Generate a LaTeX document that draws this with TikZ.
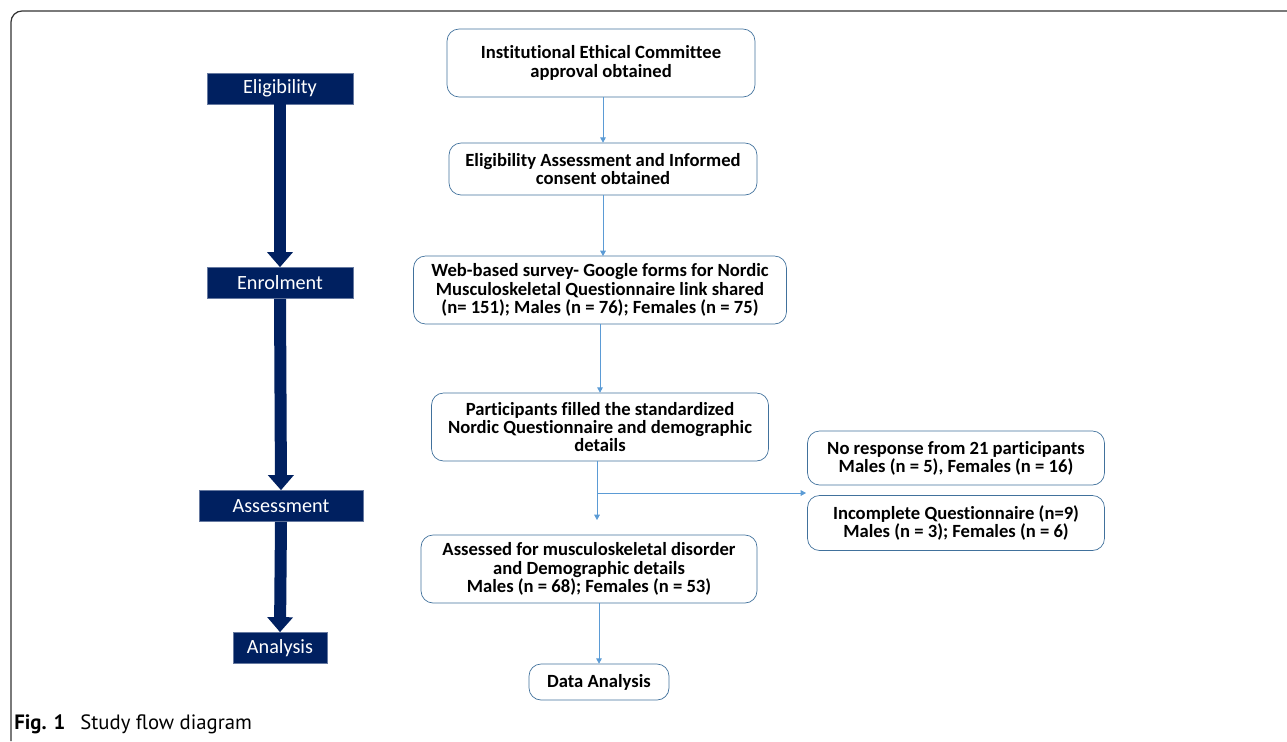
\documentclass[tikz,border=0pt]{standalone}
\usepackage{fontspec}
\setmainfont[Ligatures=NoCommon]{Carlito}
\newfontfamily\capfont{PT Sans}
\usetikzlibrary{arrows.meta}
\definecolor{navy}{HTML}{002060}
\definecolor{boxline}{HTML}{41719C}
\definecolor{flowline}{HTML}{5B9BD5}
\definecolor{frameline}{HTML}{333333}
\begin{document}
\begin{tikzpicture}[x=0.02cm,y=-0.02cm,
    stagebox/.style={fill=navy,draw=navy!60!white,text=white,inner sep=0pt,
      minimum height=0.62cm,font=\fontsize{11.5}{13}\selectfont},
    flowbox/.style={draw=boxline,rounded corners=0.24cm,align=center,inner sep=0pt,
      font=\fontsize{10.6}{10.4}\selectfont\bfseries},
    flow/.style={flowline,line width=0.5pt,-{Triangle[width=3.2pt,length=3pt]}},
    stagearrow/.style={navy,line width=0.24cm,-{Triangle[width=0.5cm,length=0.3cm]}}]
    \useasboundingbox (0,0) rectangle (1287,741);
    % frame of the figure
    \draw[frameline,line width=0.7pt,rounded corners=0.22cm] (1287,11) -- (11,11) -- (11,741);
    % stages on the left
    \node[stagebox,minimum width=2.92cm] (elig) at (280,88.5) {Eligibility};
    \node[stagebox,minimum width=2.92cm] (enrol) at (280,283) {Enrolment};
    \node[stagebox,minimum width=3.28cm] (assess) at (281,506) {Assessment};
    \node[stagebox,minimum width=1.88cm] (anal) at (280,648) {Analysis};
    \draw[stagearrow] (elig.south) -- (enrol.north);
    \draw[stagearrow] (enrol.south) -- (assess.north);
    \draw[stagearrow] (assess.south) -- (anal.north);
    % flow boxes
    \node[flowbox,minimum width=6.16cm,minimum height=1.36cm] (iec) at (601,63)
      {Institutional Ethical Committee\\approval obtained};
    \node[flowbox,minimum width=6.16cm,minimum height=1.04cm] (consent) at (603,169)
      {Eligibility Assessment and Informed\\consent obtained};
    \node[flowbox,minimum width=7.46cm,minimum height=1.36cm] (survey) at (600,290)
      {Web-based survey- Google forms for Nordic\\Musculoskeletal Questionnaire link shared\\(n= 151); Males (n = 76); Females (n = 75)};
    \node[flowbox,minimum width=6.74cm,minimum height=1.36cm] (filled) at (600,427)
      {Participants filled the standardized\\Nordic Questionnaire and demographic\\details};
    \node[flowbox,minimum width=5.94cm,minimum height=1.08cm] (noresp) at (956,458)
      {No response from 21 participants\\Males (n = 5), Females (n = 16)};
    \node[flowbox,minimum width=5.94cm,minimum height=1.1cm] (incompl) at (956,523)
      {Incomplete Questionnaire (n=9)\\Males (n = 3); Females (n = 6)};
    \node[flowbox,minimum width=6.72cm,minimum height=1.36cm] (msd) at (589,569)
      {Assessed for musculoskeletal disorder\\and Demographic details\\Males (n = 68); Females (n = 53)};
    \node[flowbox,minimum width=2.8cm,minimum height=0.72cm] (data) at (599,682)
      {Data Analysis};
    % connectors
    \draw[flow] (iec.south -| consent.north) -- (consent.north);
    \draw[flow] (603,195) -- (603,256);
    \draw[flow] (survey.south) -- (filled.north);
    \coordinate (split) at (597,493);
    \coordinate (drop) at (597,520);
    \coordinate (excl) at (806,493);
    \draw[flow] (filled.south -| split) -- (drop);
    \draw[flow] (split) -- (excl);
    \draw[flow] (msd.south -| data.north) -- (data.north);
    % caption
    \node[anchor=base west,inner sep=0pt,font=\capfont\fontsize{11.8}{14}\selectfont] (cap) at (14,729)
      {\textbf{Fig. 1}\hspace{0.3cm}Study flow diagram};
\end{tikzpicture}
\end{document}
